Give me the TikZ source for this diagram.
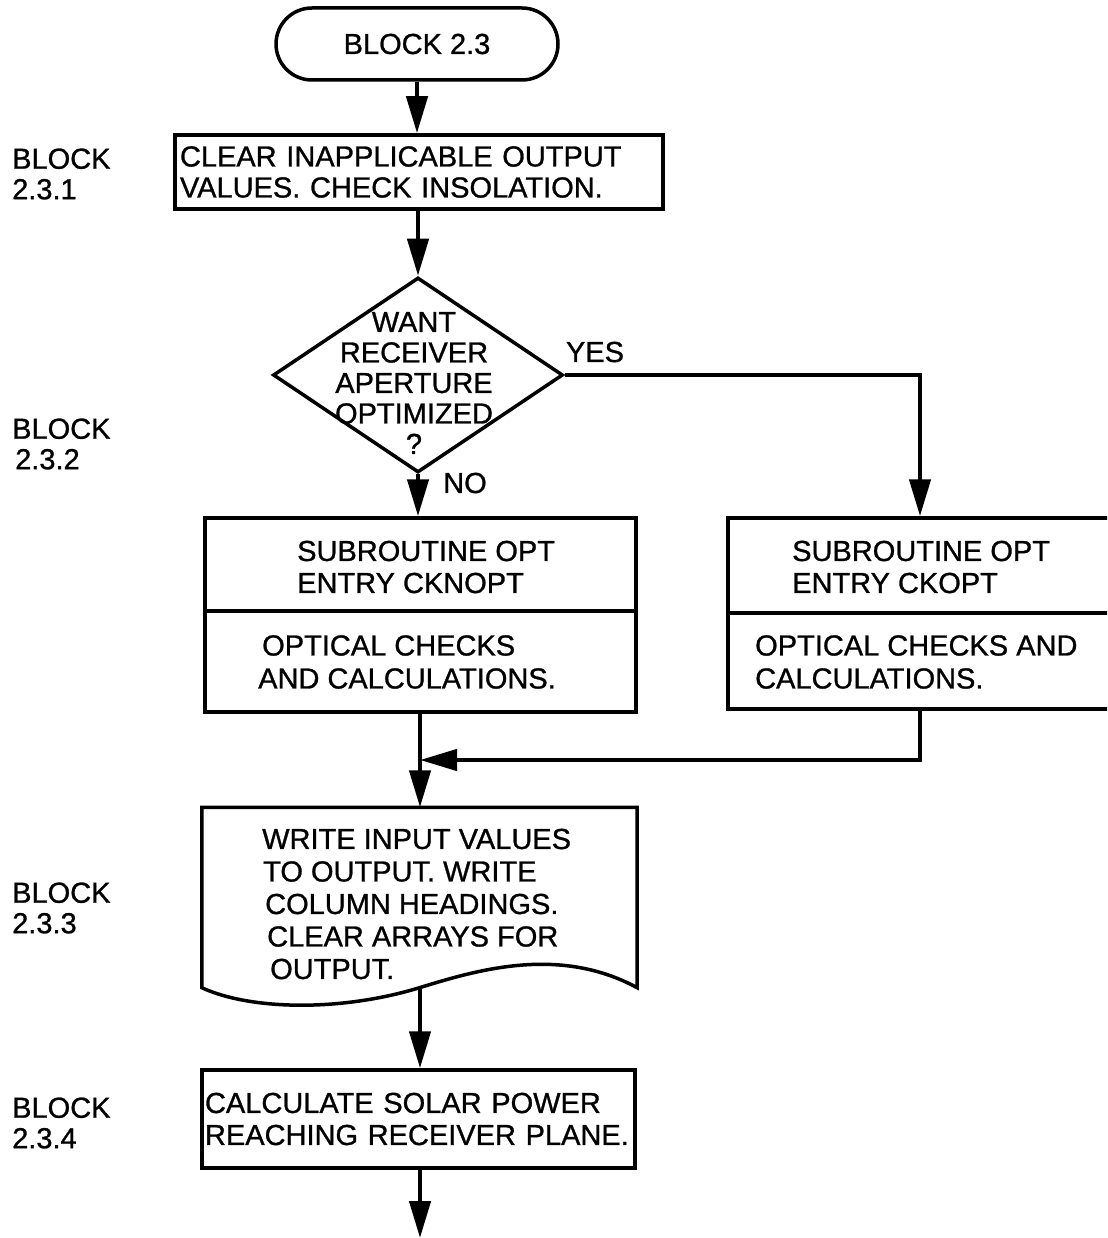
\documentclass[tikz,border=0pt]{standalone}
\usepackage{fontspec}
\setmainfont{Liberation Sans}[FakeBold=0.9]
\usetikzlibrary{arrows.meta,shapes.geometric}
\begin{document}
\begin{tikzpicture}[x=1pt,y=-1pt,
  font=\fontsize{29}{31}\selectfont,
  shape line/.style={line width=3.5pt},
  boxnode/.style={draw,rectangle,shape line,inner sep=0pt},
  termnode/.style={draw,rectangle,rounded corners=36pt,shape line,minimum width=282pt,minimum height=72pt},
  decnode/.style={draw,diamond,shape line,inner sep=0pt,minimum width=290pt,minimum height=195pt},
  txt/.style={inner sep=0pt,align=left},
  lbl/.style={inner sep=0pt,align=left,anchor=west,font=\fontsize{29}{30.5}\selectfont},
  conn/.style={line width=4.5pt},
  arr/.style={conn,-{Triangle[length=37pt,width=21pt]}}]
\useasboundingbox (0,0) rectangle (1107,1238);
\clip (0,0) rectangle (1107,1238);

% side labels
\node[lbl] (l1) at (12,174) {BLOCK\\2.3.1};
\node[lbl] (l2) at (12,444) {BLOCK\\\hspace*{3pt}2.3.2};
\node[lbl] (l3) at (12,908) {BLOCK\\2.3.3};
\node[lbl] (l4) at (12,1123) {BLOCK\\2.3.4};

% terminator
\node[termnode] (t) at (417,44) {BLOCK 2.3};

% box 1
\node[boxnode,minimum width=488pt,minimum height=74pt,text width=478pt,align=left,inner xsep=5pt] (b1) at (419,172)
  {CLEAR INAPPLICABLE OUTPUT\\VALUES. CHECK INSOLATION.};

% decision
\node[decnode] (d) at (418,375) {};
\node[txt,align=center,font=\fontsize{29}{30.5}\selectfont] (dt) at (414,383) {WANT\\RECEIVER\\APERTURE\\OPTIMIZED\\?};
\node[inner sep=0pt] (yes) at (595,352) {YES};
\node[inner sep=0pt] (no) at (465,483) {NO};

% subroutine boxes
\node[boxnode,minimum width=431pt,minimum height=194pt] (b2) at (420.5,615) {};
\draw[shape line] (b2.west |- 0,611) -- (b2.east |- 0,611);
\node[txt,anchor=west,font=\fontsize{29}{32}\selectfont] (b2a) at (297,567) {SUBROUTINE OPT\\ENTRY CKNOPT};
\node[txt,anchor=west,font=\fontsize{29}{33}\selectfont] (b2b) at (258,662) {\hspace*{4pt}OPTICAL CHECKS\\AND CALCULATIONS.};

\node[boxnode,minimum width=384pt,minimum height=191pt] (b3) at (920,613.5) {};
\draw[shape line] (b3.west |- 0,613) -- (b3.east |- 0,613);
\node[txt,anchor=west,font=\fontsize{29}{32}\selectfont] (b3a) at (792,567) {SUBROUTINE OPT\\ENTRY CKOPT};
\node[txt,anchor=west,font=\fontsize{29}{33}\selectfont] (b3b) at (755,662) {OPTICAL CHECKS AND\\CALCULATIONS.};

% document
\node[inner sep=0pt,minimum width=435pt,minimum height=180pt] (doc) at (419.5,897.5) {};
\draw[shape line] (doc.south east) -- (doc.north east) -- (doc.north west) -- (doc.south west)
  .. controls (250,1010) and (340,1012) .. (doc.south)
  .. controls (480,969) and (560,946) .. (doc.south east) -- cycle;
\node[txt,anchor=west,font=\fontsize{29}{32.5}\selectfont] (doct) at (262,904)
  {WRITE INPUT VALUES\\\hspace*{1pt}TO OUTPUT. WRITE\\\hspace*{3pt}COLUMN HEADINGS.\\\hspace*{5pt}CLEAR ARRAYS FOR\\\hspace*{8pt}OUTPUT.};

% box 4
\node[boxnode,minimum width=433pt,minimum height=98pt,text width=427pt,align=left,inner xsep=3pt,font=\fontsize{29}{32}\selectfont] (b4) at (418.5,1119)
  {CALCULATE SOLAR POWER\\REACHING RECEIVER PLANE.};

\coordinate (m) at (420,760);
\coordinate (e) at (420,1238);

% connectors
\draw[arr] (t.south) -- (t.south |- b1.north);
\draw[arr] (d.north |- b1.south) -- (d.north);
\draw[arr] (d.east) -| (b3.north);
\draw[arr] (d.south) -- (d.south |- b2.north);
\draw[arr] (m |- b2.south) -- (m |- doc.north);
\draw[arr] (b3.south) |- (m);
\draw[arr] (m |- doc.south) -- (m |- b4.north);
\draw[arr] (m |- b4.south) -- (e);
\end{tikzpicture}
\end{document}
